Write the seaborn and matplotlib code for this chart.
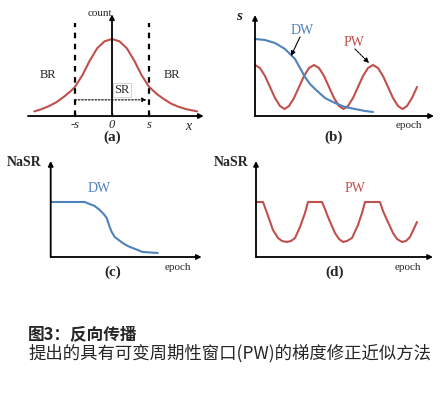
import numpy as np
import matplotlib
matplotlib.use('Agg')
import matplotlib.pyplot as plt
import seaborn as sns

sns.set_style('white')
plt.rcParams['font.family'] = ['Liberation Serif', 'DejaVu Serif']

RED = '#c0504d'
BLUE = '#4f81bd'

# (a) count distribution, x in units of s
bell_x = [-2.1, -1.9, -1.7, -1.5, -1.3, -1.1, -1.0, -0.8, -0.6, -0.4, -0.2, 0.0,
          0.2, 0.4, 0.6, 0.8, 1.0, 1.2, 1.4, 1.6, 1.8, 2.0, 2.3]
bell_y = [0.06, 0.09, 0.13, 0.18, 0.25, 0.33, 0.38, 0.53, 0.72, 0.88, 0.97, 1.0,
          0.97, 0.88, 0.72, 0.53, 0.38, 0.29, 0.22, 0.16, 0.12, 0.09, 0.06]
a_ticks = [-1, 0, 1]
a_ticklabels = ['-s', '0', 's']

# (b) s over epochs
pw_b_x = [0, 5, 10, 15, 20, 25, 29.5, 34, 39, 44, 49, 54, 59, 64, 69, 74, 79, 84,
          88.5, 93, 98, 103, 108, 113, 118, 123, 128, 133, 138, 143, 147.5, 152, 157, 162]
pw_b_y = [51, 48, 40, 29, 18, 10, 7, 10, 18, 29, 40, 48, 51, 48, 40, 29, 18, 10,
          7, 10, 18, 29, 40, 48, 51, 48, 40, 29, 18, 10, 7, 10, 18, 29]
dw_b_x = [0, 10, 20, 30, 40, 45, 50, 55, 60, 70, 80, 90, 100, 110, 118]
dw_b_y = [77, 76, 73, 67, 57, 48, 39, 32, 27, 18, 13, 9, 7, 5, 4]

# (c) NaSR for DW
dw_c_x = [0, 10, 20, 30, 34, 39, 44, 49, 53, 56, 59, 61, 64, 68, 72, 77, 82, 87, 92, 100, 107]
dw_c_y = [55, 55, 55, 55, 55, 53, 51, 47, 43, 39, 30, 25, 20, 17, 14, 11, 9, 7, 5, 4.5, 4]

# (d) NaSR for PW
pw_d_x = [0, 7, 11, 17, 22, 26, 31, 35, 39, 44, 49, 52, 66, 69, 72, 79, 83, 87, 91, 96,
          102, 106, 109, 124, 127, 131, 137, 141, 146, 150, 154, 161]
pw_d_y = [55, 55, 44, 27, 19, 16, 15, 16, 19, 30, 44, 55, 55, 48, 40, 24, 18, 15, 16, 19,
          32, 44, 55, 55, 46, 37, 24, 18, 15, 16, 20, 35]

W, H = 447, 398
fig = plt.figure(figsize=(W / 100, H / 100), dpi=100)


def px_axes(x0, x1, y0, y1):
    ax = fig.add_axes([x0 / W, 1 - y1 / H, (x1 - x0) / W, (y1 - y0) / H])
    ax.set_axis_off()
    return ax


def arrow(ax, x0, y0, x1, y1, lw=1.3, ls='-'):
    ax.annotate('', xy=(x1, y1), xytext=(x0, y0),
                arrowprops=dict(arrowstyle='-|>', lw=lw, color='black', ls=ls,
                                shrinkA=0, shrinkB=0, mutation_scale=7))


# ---- (a)
ax = px_axes(26.9, 204.5, 12, 143)
ax.set_xlim(-2.3, 2.5)
ax.set_ylim(-0.35, 1.35)
sns.lineplot(x=bell_x, y=bell_y, ax=ax, color=RED, linewidth=1.5)
arrow(ax, -2.27, 0, 2.48, 0)
arrow(ax, 0, 0, 0, 1.32)
for t in [-1, 1]:
    ax.plot([t, t], [0, 1.21], color='black', lw=1.6, ls=(0, (2.5, 2.5)))
ax.annotate('', xy=(0.93, 0.21), xytext=(-1, 0.21),
            arrowprops=dict(arrowstyle='-|>', lw=0.8, color='black', ls=(0, (1.5, 1.5)),
                            shrinkA=0, shrinkB=0, mutation_scale=6))
for t, lab in zip(a_ticks, a_ticklabels):
    ax.plot([t, t], [0, 0.04], color='black', lw=1)
    ax.text(t, -0.04, lab, ha='center', va='top', fontsize=9, style='italic')
ax.text(2.05, -0.05, 'x', ha='center', va='top', fontsize=10, style='italic')
ax.text(-0.32, 1.33, 'count', ha='center', va='center', fontsize=8)
ax.text(-1.73, 0.53, 'BR', ha='center', va='center', fontsize=9)
ax.text(1.62, 0.53, 'BR', ha='center', va='center', fontsize=9)
ax.text(0.27, 0.34, 'SR', ha='center', va='center', fontsize=9,
        bbox=dict(boxstyle='square,pad=0.1', fc='white', ec='#cccccc', lw=0.6))
ax.text(0, -0.27, '(a)', ha='center', va='center', fontsize=11, fontweight='bold')

# ---- (b)
ax = px_axes(240, 440, 5, 145)
ax.set_xlim(-15, 185)
ax.set_ylim(-29, 111)
sns.lineplot(x=pw_b_x, y=pw_b_y, ax=ax, color=RED, linewidth=1.5)
sns.lineplot(x=dw_b_x, y=dw_b_y, ax=ax, color=BLUE, linewidth=1.5)
arrow(ax, 0, 0, 179, 0)
arrow(ax, 0, 0, 0, 101)
ax.text(-16, 100, 's', ha='center', va='center', fontsize=11, style='italic', fontweight='bold')
ax.text(47, 86, 'DW', ha='center', va='center', fontsize=10, color=BLUE)
ax.text(99, 74, 'PW', ha='center', va='center', fontsize=10, color=RED)
arrow(ax, 45, 79, 36, 60, lw=0.8)
arrow(ax, 100, 67, 114, 53, lw=0.8, ls=(0, (2, 1)))
ax.text(154, -9, 'epoch', ha='center', va='center', fontsize=8)
ax.text(79, -21, '(b)', ha='center', va='center', fontsize=11, fontweight='bold')

# ---- (c)
ax = px_axes(0, 215, 150, 285)
ax.set_xlim(-50.7, 164.3)
ax.set_ylim(-28, 107)
sns.lineplot(x=dw_c_x, y=dw_c_y, ax=ax, color=BLUE, linewidth=1.5)
arrow(ax, 0, 0, 151, 0)
arrow(ax, 0, 0, 0, 96)
ax.text(-26.7, 94, 'NaSR', ha='center', va='center', fontsize=10, fontweight='bold')
ax.text(48, 68, 'DW', ha='center', va='center', fontsize=10, color=BLUE)
ax.text(127, -10, 'epoch', ha='center', va='center', fontsize=8)
ax.text(62, -15, '(c)', ha='center', va='center', fontsize=11, fontweight='bold')

# ---- (d)
ax = px_axes(215, 440, 150, 285)
ax.set_xlim(-41, 184)
ax.set_ylim(-28, 107)
sns.lineplot(x=pw_d_x, y=pw_d_y, ax=ax, color=RED, linewidth=1.5)
arrow(ax, 0, 0, 177, 0)
arrow(ax, 0, 0, 0, 96)
ax.text(-25, 94, 'NaSR', ha='center', va='center', fontsize=10, fontweight='bold')
ax.text(99, 68, 'PW', ha='center', va='center', fontsize=10, color=RED)
ax.text(152, -10, 'epoch', ha='center', va='center', fontsize=8)
ax.text(79, -15, '(d)', ha='center', va='center', fontsize=11, fontweight='bold')

# ---- caption
cjk = ['Noto Sans CJK SC', 'DejaVu Sans']
fig.text(28 / W, 1 - 334 / H, '图3：反向传播', ha='left', va='center',
         fontsize=12, fontweight='bold', family=cjk)
fig.text(28 / W, 1 - 353 / H, '提出的具有可变周期性窗口(PW)的梯度修正近似方法',
         ha='left', va='center', fontsize=12.5, fontweight='light', family=cjk)

fig.savefig('out.png', dpi=100)
